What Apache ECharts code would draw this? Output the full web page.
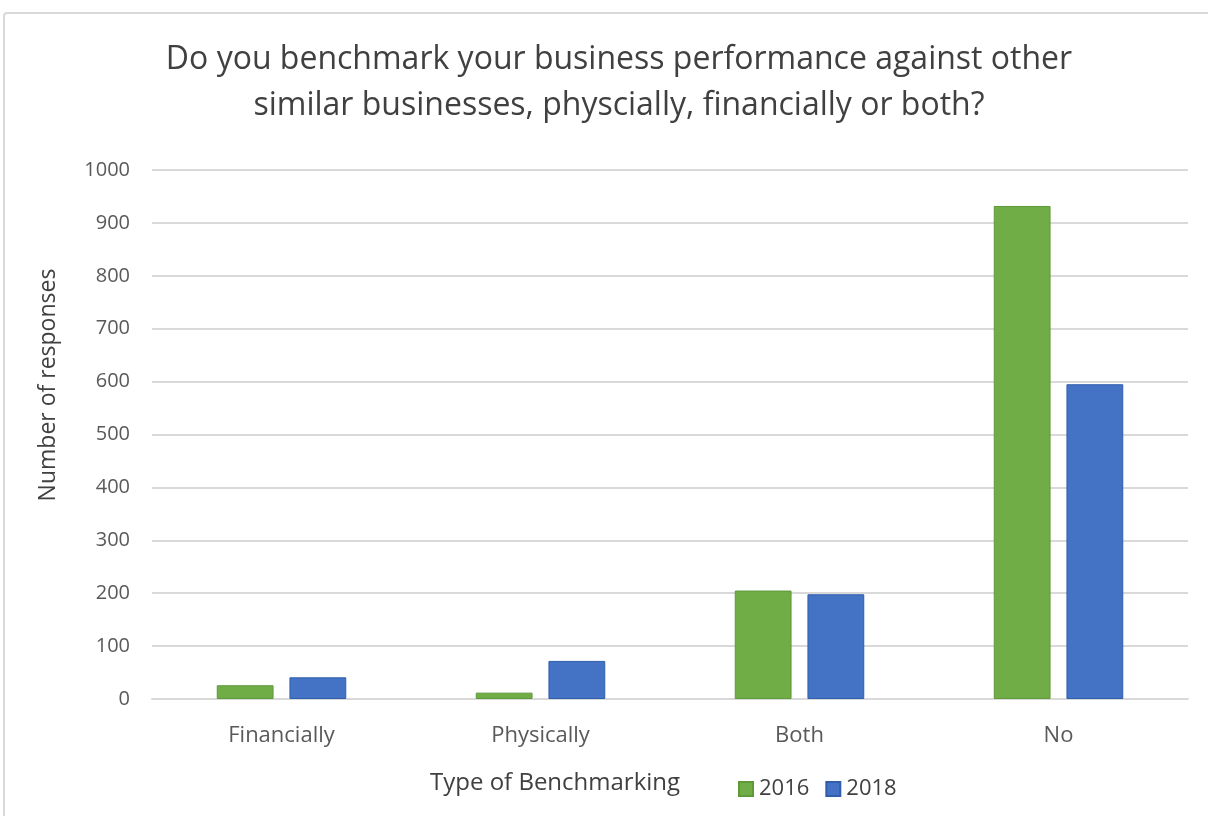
<!DOCTYPE html>
<html><head><meta charset="utf-8">
<script src="https://cdn.jsdelivr.net/npm/echarts@6/dist/echarts.min.js"></script>
<style>html,body{margin:0;padding:0;background:#fff}#c{width:1208px;height:816px}
#frame{position:absolute;left:3px;top:12px;width:1220px;height:820px;border:2px solid #d9d9d9;border-radius:4px;box-sizing:border-box;pointer-events:none}</style>
</head><body><div id="c"></div><div id="frame"></div>
<script>
const categories = ['Financially', 'Physically', 'Both', 'No'];
const series2016 = [26, 12, 205, 932];
const series2018 = [41, 72, 198, 595];
const yTicks = [0, 100, 200, 300, 400, 500, 600, 700, 800, 900, 1000];
const chart = echarts.init(document.getElementById('c'));
const font = 'Open Sans';
chart.setOption({
  animation: false,
  title: {
    text: 'Do you benchmark your business performance against other\nsimilar businesses, physcially, financially or both?',
    left: 614, top: 32, textAlign: 'center',
    textStyle: { fontFamily: font, fontSize: 32, fontWeight: 'normal', color: '#404040', lineHeight: 46 }
  },
  legend: {
    data: ['2016', '2018'], left: 733, top: 773, itemWidth: 14, itemHeight: 14, itemGap: 16,
    icon: 'rect',
    textStyle: { fontFamily: font, fontSize: 22, color: '#404040', padding: [0, 0, 0, 1] }
  },
  graphic: [{
    type: 'text', left: 430, top: 771,
    style: { text: 'Type of Benchmarking', fontFamily: font, fontSize: 24, fill: '#404040' }
  }, {
    type: 'text', x: 48, y: 385, rotation: Math.PI / 2,
    style: { text: 'Number of responses', fontFamily: font, fontSize: 23, fill: '#404040',
      align: 'center', verticalAlign: 'middle' }
  }],
  grid: { left: 152, right: 20, top: 170, bottom: 117 },
  xAxis: {
    type: 'category', data: categories,
    axisLine: { lineStyle: { color: '#d9d9d9', width: 2 } },
    axisTick: { show: false },
    axisLabel: { fontFamily: font, fontSize: 22, color: '#595959', margin: 26 }
  },
  yAxis: {
    type: 'value', min: yTicks[0], max: yTicks[yTicks.length - 1], interval: 100,
    axisLine: { show: false }, axisTick: { show: false },
    axisLabel: { fontFamily: font, fontSize: 20, color: '#595959', margin: 22, formatter: v => String(v) },
    splitLine: { lineStyle: { color: '#d9d9d9', width: 2 } }
  },
  series: [
    { name: '2016', type: 'bar', data: series2016, barGap: '28%', barCategoryGap: '50%',
      itemStyle: { color: '#70ad47', borderColor: '#5e9a38', borderWidth: 1 } },
    { name: '2018', type: 'bar', data: series2018,
      itemStyle: { color: '#4472c4', borderColor: '#2f5ead', borderWidth: 1 } }
  ]
});
</script></body></html>
